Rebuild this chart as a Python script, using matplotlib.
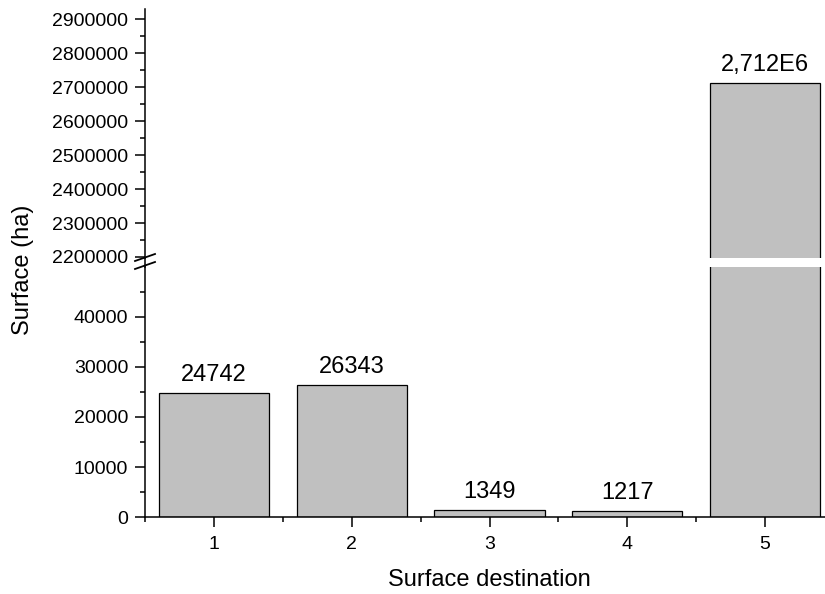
import matplotlib
matplotlib.use("Agg")
import matplotlib.pyplot as plt
from matplotlib.ticker import MultipleLocator, FixedLocator
from matplotlib.lines import Line2D

plt.rcParams['font.family'] = ['Liberation Sans', 'DejaVu Sans']

# data
destinations = [1, 2, 3, 4, 5]
surface = [24742, 26343, 1349, 1217, 2712000]
bar_labels = ['24742', '26343', '1349', '1217', '2,712E6']
low_ticks = [0, 10000, 20000, 30000, 40000]
high_ticks = [2200000, 2300000, 2400000, 2500000, 2600000, 2700000, 2800000, 2900000]

W, H = 825, 594
fig = plt.figure(figsize=(W / 100, H / 100), dpi=100)


def px_rect(x0, y_top, x1, y_bot):
    # pixel box (from top-left) -> figure fraction rect
    return [x0 / W, 1 - y_bot / H, (x1 - x0) / W, (y_bot - y_top) / H]


ax_hi = fig.add_axes(px_rect(145, 9, 834, 258))
ax_lo = fig.add_axes(px_rect(145, 267, 834, 517))

bar_kw = dict(width=0.8, color='#c0c0c0', edgecolor='black', linewidth=0.9)
for ax in (ax_hi, ax_lo):
    ax.bar(destinations, surface, **bar_kw)
    ax.set_xlim(0.5, 5.5)
    ax.spines['top'].set_visible(False)
    ax.spines['right'].set_visible(False)
    ax.spines['left'].set_linewidth(1.1)
    ax.spines['bottom'].set_linewidth(1.1)
    ax.tick_params(axis='y', which='major', direction='out', length=7, width=1.1,
                   labelsize=14, pad=5)
    ax.tick_params(axis='y', which='minor', direction='out', length=3.5, width=1.1)

ax_lo.set_ylim(0, 50000)
ax_lo.yaxis.set_major_locator(FixedLocator(low_ticks))
ax_lo.set_yticklabels([str(t) for t in low_ticks])
ax_lo.yaxis.set_minor_locator(FixedLocator([5000, 15000, 25000, 35000, 45000]))
ax_lo.set_xticks(destinations)
ax_lo.xaxis.set_minor_locator(MultipleLocator(0.5))
ax_lo.tick_params(axis='x', which='major', direction='out', length=7, width=1.1,
                  labelsize=14, pad=7)
ax_lo.tick_params(axis='x', which='minor', direction='out', length=3.5, width=1.1)

ax_hi.set_ylim(2197000, 2930000)
ax_hi.yaxis.set_major_locator(FixedLocator(high_ticks))
ax_hi.set_yticklabels([str(t) for t in high_ticks])
ax_hi.yaxis.set_minor_locator(FixedLocator([t + 50000 for t in high_ticks[:-1]]))
ax_hi.spines['bottom'].set_visible(False)
ax_hi.set_xticks([])
ax_hi.tick_params(axis='x', which='both', length=0)

# value labels above bars
for x, v, lab in zip(destinations, surface, bar_labels):
    ax = ax_hi if v > 50000 else ax_lo
    ax.annotate(lab, (x, v), xytext=(0, 13), textcoords='offset points',
                ha='center', va='center', fontsize=17)

# continuous left spine through the gap, plus break marks
fig.add_artist(Line2D([145 / W, 145 / W], [1 - 267 / H, 1 - 258 / H],
                      color='black', linewidth=1.1))
for y0 in (261, 269):
    fig.add_artist(Line2D([135 / W, 155 / W], [1 - y0 / H, 1 - (y0 - 7) / H],
                          color='black', linewidth=1.3))

fig.text(23 / W, 1 - 270 / H, 'Surface (ha)', rotation=90, ha='center', va='center',
         fontsize=17)
fig.text(489 / W, 1 - 580 / H, 'Surface destination', ha='center', va='center',
         fontsize=17)

fig.savefig('out.png', dpi=100)
